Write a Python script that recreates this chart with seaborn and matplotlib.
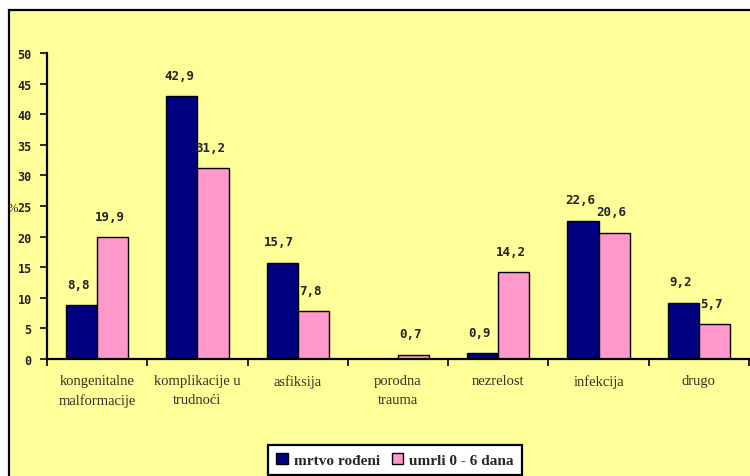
import matplotlib
matplotlib.use("Agg")
import matplotlib.pyplot as plt
from matplotlib.patches import Rectangle
import numpy as np
import pandas as pd
import seaborn as sns

categories = ["kongenitalne\nmalformacije", "komplikacije u\ntrudnoći", "asfiksija",
              "porodna\ntrauma", "nezrelost", "infekcija", "drugo"]
mrtvo_rodeni = [8.8, 42.9, 15.7, 0.0, 0.9, 22.6, 9.2]
umrli_0_6 = [19.9, 31.2, 7.8, 0.7, 14.2, 20.6, 5.7]
series_names = ["mrtvo rođeni", "umrli 0 - 6 dana"]
y_ticks = [0, 5, 10, 15, 20, 25, 30, 35, 40, 45, 50]

navy = "#000080"
pink = "#FF99CC"
yellow = "#FFFF99"

df = pd.DataFrame({
    "kategorija": categories * 2,
    "serija": [series_names[0]] * len(categories) + [series_names[1]] * len(categories),
    "vrijednost": mrtvo_rodeni + umrli_0_6,
})

sns.set_theme(style="white")
plt.rcParams["font.family"] = ["Liberation Serif", "DejaVu Serif"]

fig = plt.figure(figsize=(7.5, 4.77), dpi=100, facecolor="white")
# yellow chart area with a black frame
fig.patches.append(Rectangle((9 / 750, -0.02), 1.0, 1 - 11 / 477 + 0.02,
                             transform=fig.transFigure, facecolor=yellow,
                             edgecolor="black", linewidth=1.6, zorder=-10))

ax = fig.add_axes([47 / 750, 1 - 360 / 477, 702 / 750, (360 - 54) / 477])
ax.set_facecolor("none")

sns.barplot(data=df, x="kategorija", y="vrijednost", hue="serija",
            palette=[navy, pink], width=0.62, gap=0, edgecolor="black",
            linewidth=1.0, ax=ax, legend=True, saturation=1)

ax.set_xlim(-0.5, len(categories) - 0.5)
ax.set_ylim(0, 50)
ax.set_yticks(y_ticks)
ax.set_yticklabels([str(v) for v in y_ticks], fontsize=8.5, fontweight="bold",
                   family="DejaVu Sans Mono", color="#222222")
ax.tick_params(axis="y", which="major", direction="out", length=5, width=1.2,
               color="black", left=True, pad=6)
ax.set_xticks(range(len(categories)))
ax.set_xticklabels(categories, fontsize=10.5, color="#333322", linespacing=1.55)
ax.tick_params(axis="x", which="major", length=0, pad=11)
ax.set_xticks(np.arange(-0.5, len(categories), 1.0), minor=True)
ax.tick_params(axis="x", which="minor", direction="out", length=5, width=1.2,
               color="black", bottom=True)
ax.set_xlabel("")
ax.set_ylabel("")
for side in ["top", "right"]:
    ax.spines[side].set_visible(False)
for side in ["left", "bottom"]:
    ax.spines[side].set_color("black")
    ax.spines[side].set_linewidth(1.6)

# value labels above the bars
for container, values in zip(ax.containers, [mrtvo_rodeni, umrli_0_6]):
    for bar, v in zip(container, values):
        if v == 0:
            continue
        x = bar.get_x() + bar.get_width() / 2
        ax.annotate(f"{v:.1f}".replace(".", ","), (x, v), xytext=(-3, 21),
                    textcoords="offset pixels",
                    ha="center", va="center", fontsize=9, fontweight="bold",
                    family="DejaVu Sans Mono", color="#222222")

fig.text(13 / 750, 1 - 209 / 477, "%", fontsize=9, ha="center", va="center",
         color="#222222")

leg = ax.legend(loc="center", bbox_to_anchor=(395 / 750, 1 - 461 / 477),
                bbox_transform=fig.transFigure, ncol=2, frameon=True,
                fancybox=False, edgecolor="black", facecolor="white",
                framealpha=1, handlelength=0.75, handleheight=0.75,
                handletextpad=0.4, columnspacing=0.8, borderpad=0.5,
                prop={"family": "Liberation Serif", "weight": "bold", "size": 11})
leg.get_frame().set_linewidth(1.6)

fig.savefig("out.png", dpi=100, facecolor=fig.get_facecolor())
